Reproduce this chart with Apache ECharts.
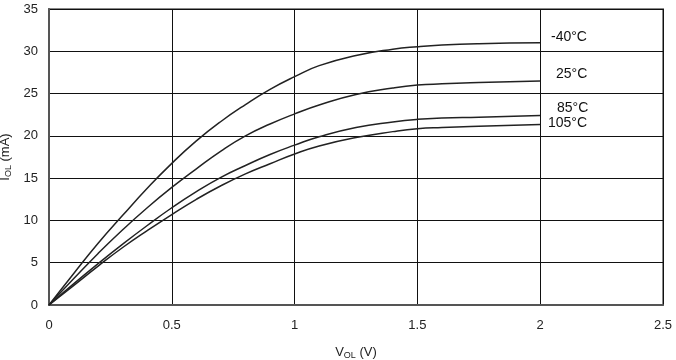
<!DOCTYPE html>
<html>
<head>
<meta charset="utf-8">
<script src="https://cdn.jsdelivr.net/npm/echarts@6/dist/echarts.min.js"></script>
<style>html,body{margin:0;padding:0;background:#fff;}#c{width:676px;height:360px;}</style>
</head>
<body>
<div id="c"></div>
<script>
var vol = [0, 0.1, 0.2, 0.3, 0.4, 0.5, 0.6, 0.7, 0.8, 0.9, 1.0, 1.1, 1.25, 1.4, 1.5, 1.6, 1.75, 2.0];
var iM40 = [0, 3.7, 7.3, 10.6, 13.8, 16.75, 19.4, 21.7, 23.7, 25.5, 27.0, 28.3, 29.5, 30.25, 30.55, 30.75, 30.9, 31.0];
var i25  = [0, 3.1, 6.1, 8.9, 11.5, 13.9, 16.1, 18.2, 20.0, 21.4, 22.6, 23.65, 24.9, 25.65, 26.0, 26.15, 26.3, 26.5];
var i85  = [0, 2.5, 4.9, 7.2, 9.4, 11.5, 13.4, 15.1, 16.5, 17.8, 18.9, 19.9, 21.0, 21.65, 21.95, 22.1, 22.2, 22.4];
var i105 = [0, 2.3, 4.6, 6.8, 8.8, 10.7, 12.5, 14.1, 15.5, 16.7, 17.85, 18.8, 19.8, 20.5, 20.85, 21.0, 21.15, 21.35];
var seriesNames = ['-40°C', '25°C', '85°C', '105°C'];
var seriesData = [iM40, i25, i85, i105];
var xTicks = {min: 0, max: 2.5, interval: 0.5};
var yTicks = {min: 0, max: 35, interval: 5};

var font = 'Liberation Sans, Arial, sans-serif';
function pairs(ys) { return vol.map(function (v, i) { return [v, ys[i]]; }); }

var chart = echarts.init(document.getElementById('c'), null, {renderer: 'canvas'});
chart.setOption({
  animation: false,
  backgroundColor: '#fff',
  grid: {left: 49, right: 13, top: 9, bottom: 55, containLabel: false, outerBoundsMode: 'none',
         show: true, borderColor: '#888', borderWidth: 2, backgroundColor: 'transparent'},
  xAxis: {
    type: 'value', min: xTicks.min, max: xTicks.max, interval: xTicks.interval,
    axisLine: {show: true, onZero: false, lineStyle: {color: '#555', width: 2}},
    axisTick: {show: false},
    splitLine: {show: true, lineStyle: {color: '#111', width: 1}},
    axisLabel: {color: '#222', fontFamily: font, fontSize: 13, margin: 14},
    name: '{m|V}{s|OL}{m| (V)}', nameLocation: 'middle', nameGap: 40,
    nameTextStyle: {rich: {m: {fontFamily: font, fontSize: 13, color: '#222'}, s: {fontFamily: font, fontSize: 9, color: '#222', verticalAlign: 'bottom', padding: [6, 0, 0, 0]}}}
  },
  yAxis: {
    type: 'value', min: yTicks.min, max: yTicks.max, interval: yTicks.interval,
    axisLine: {show: true, lineStyle: {color: '#555', width: 2}},
    axisTick: {show: false},
    splitLine: {show: true, lineStyle: {color: '#111', width: 1}},
    axisLabel: {color: '#222', fontFamily: font, fontSize: 13, margin: 11},
    name: '{m|I}{s|OL}{m| (mA)}', nameLocation: 'middle', nameGap: 33,
    nameTextStyle: {rich: {m: {fontFamily: font, fontSize: 13, color: '#222'}, s: {fontFamily: font, fontSize: 9, color: '#222', verticalAlign: 'bottom', padding: [6, 0, 0, 0]}}}
  },
  series: seriesData.map(function (d, k) {
    return {
      type: 'line', name: seriesNames[k], data: pairs(d), smooth: true, showSymbol: false,
      lineStyle: {color: '#222', width: 1.5}, z: 5
    };
  }),
  graphic: [
    {type: 'text', left: 551, top: 30, style: {text: seriesNames[0], fontFamily: font, fontSize: 14, fill: '#111'}},
    {type: 'text', left: 556, top: 67, style: {text: seriesNames[1], fontFamily: font, fontSize: 14, fill: '#111'}},
    {type: 'text', left: 557, top: 101, style: {text: seriesNames[2], fontFamily: font, fontSize: 14, fill: '#111'}},
    {type: 'text', left: 548, top: 116, style: {text: seriesNames[3], fontFamily: font, fontSize: 14, fill: '#111'}}
  ]
});
</script>
</body>
</html>
